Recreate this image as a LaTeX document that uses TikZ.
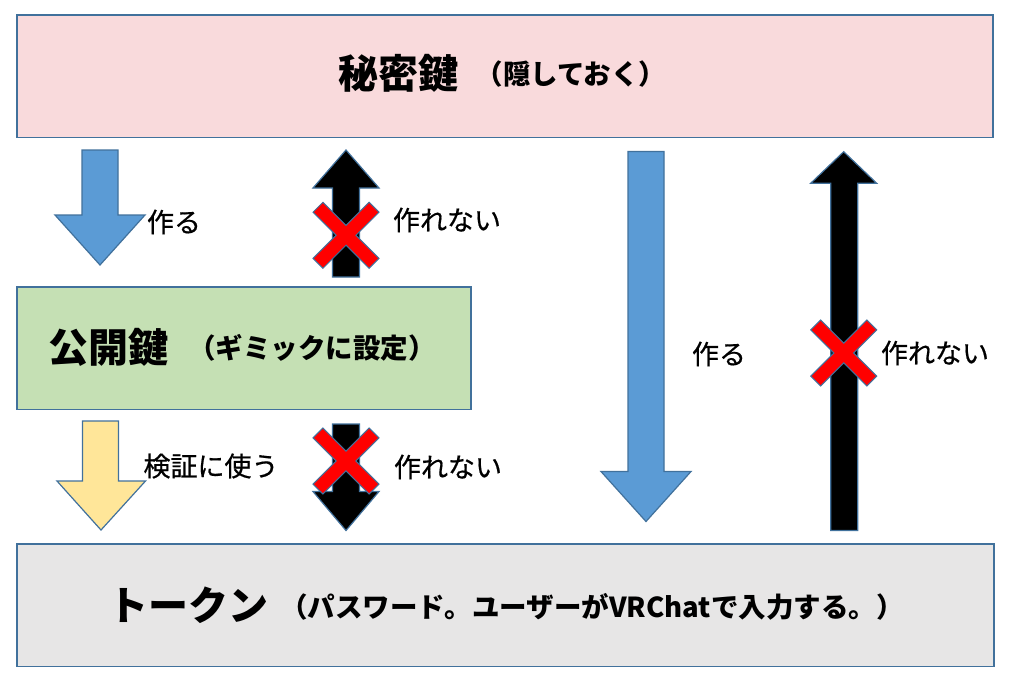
\documentclass[tikz,border=0pt]{standalone}
\usepackage{fontspec}
\setmainfont{Noto Sans CJK JP}
\newfontfamily\labfont{Noto Sans CJK JP}[FakeBold=0.6]
\definecolor{outl}{HTML}{41719C}
\definecolor{pinkf}{HTML}{F9DADC}
\definecolor{greenf}{HTML}{C5E0B4}
\definecolor{grayf}{HTML}{E7E6E6}
\definecolor{bluef}{HTML}{5B9BD5}
\definecolor{yellowf}{HTML}{FFE699}
\begin{document}
\begin{tikzpicture}[x=1pt,y=-1pt,
  box/.style={draw=outl, line width=1.8pt, inner sep=0pt, anchor=north west},
  blockarrow/.style={draw=outl, line width=1.2pt, line join=miter},
  cross/.style={fill=red, draw=outl, line width=1pt, line join=miter},
  lab/.style={inner sep=0pt, font=\labfont\fontsize{27}{31}\selectfont},
  big/.style={inner sep=0pt, font=\fontsize{40}{48}\selectfont\bfseries},
  mid/.style={inner sep=0pt, font=\fontsize{27.5}{32}\selectfont\bfseries},
  redx/.pic={\path[cross] (9.9,0) -- (33,23.1) -- (23.1,33) -- (0,9.9) -- (-23.1,33) -- (-33,23.1) -- (-9.9,0) -- (-33,-23.1) -- (-23.1,-33) -- (0,-9.9) -- (23.1,-33) -- (33,-23.1) -- cycle;}
]
\fill[white] (0,0) rectangle (1012,683);
\useasboundingbox (0,0) rectangle (1012,683);

% boxes
\node[box, fill=pinkf, minimum width=976pt, minimum height=122.5pt] (secret) at (16,14) {};
\node[box, fill=greenf, minimum width=454pt, minimum height=122.5pt] (public) at (16,286) {};
\node[box, fill=grayf, minimum width=977pt, minimum height=122.5pt] (token) at (16,543) {};

% box texts
\node[big] (secretT) at (398,73) {秘密鍵};
\node[mid] (secretS) at (571,74) {（隠しておく）};
\node[big] (publicT) at (108,347) {公開鍵};
\node[mid] (publicS) at (312,348) {（ギミックに設定）};
\node[big] (tokenT) at (188,605) {トークン};
\node[mid] (tokenS) at (592,607) {（パスワード。ユーザーがVRChatで入力する。）};

% block arrows
\path[blockarrow, fill=bluef] (82,150) -- (118,150) -- (118,215) -- (145,215) -- (100,265) -- (55,215) -- (82,215) -- cycle;
\path[blockarrow, fill=black] (346,150) -- (379,188) -- (359.5,188) -- (359.5,277) -- (332.5,277) -- (332.5,188) -- (313,188) -- cycle;
\path[blockarrow, fill=yellowf] (82.5,421) -- (118.5,421) -- (118.5,481) -- (145.5,481) -- (101,530) -- (57,481) -- (82.5,481) -- cycle;
\path[blockarrow, fill=black] (332.5,424) -- (359.5,424) -- (359.5,491.5) -- (379,491.5) -- (346,530.5) -- (313,491.5) -- (332.5,491.5) -- cycle;
\path[blockarrow, fill=bluef] (628,151.5) -- (664,151.5) -- (664,471.5) -- (691,471.5) -- (646,521.5) -- (601,471.5) -- (628,471.5) -- cycle;
\path[blockarrow, fill=black] (843.7,151.7) -- (876.7,183.3) -- (857.7,183.3) -- (857.7,530.5) -- (830.7,530.5) -- (830.7,183.3) -- (810.7,183.3) -- cycle;

% crosses
\pic at (346,235.3) {redx};
\pic at (346,461) {redx};
\pic at (843.7,353) {redx};

% labels
\node[lab] (l1) at (174,222) {作る};
\node[lab] (l2) at (447,220) {作れない};
\node[lab] (l3) at (211,466) {検証に使う};
\node[lab] (l4) at (448,467) {作れない};
\node[lab] (l5) at (719,354) {作る};
\node[lab] (l6) at (935,353) {作れない};
\end{tikzpicture}
\end{document}
